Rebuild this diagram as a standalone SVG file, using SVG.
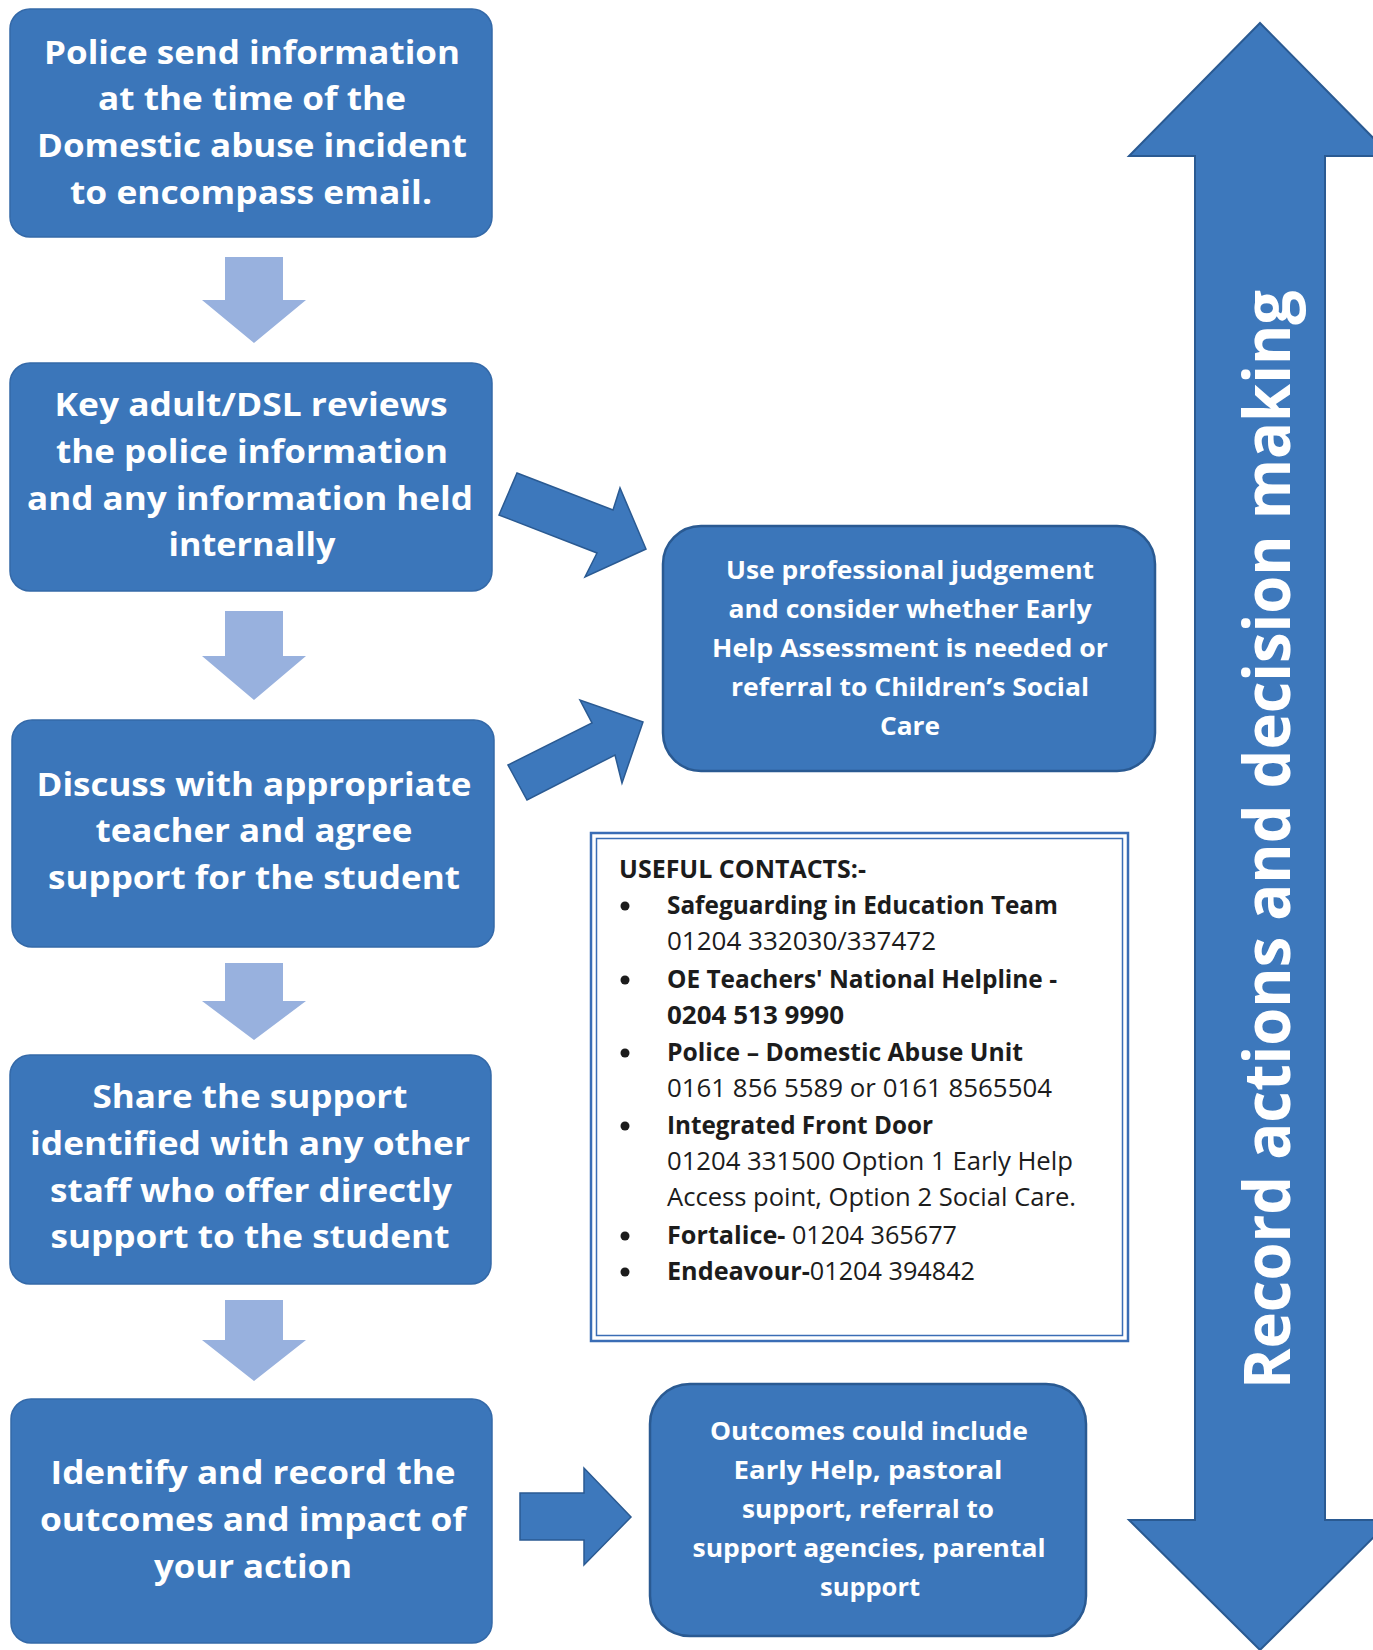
<svg xmlns="http://www.w3.org/2000/svg" width="1373" height="1650" viewBox="0 0 1373 1650">
<style>
.box{fill:#3B76BA;stroke:#3469A8;stroke-width:1.5}
.rbox{fill:#3B76BA;stroke:#2A5A92;stroke-width:2.5}
.bt{font-family:"Open Sans","Noto Sans",sans-serif;font-weight:700;fill:#ffffff;text-anchor:middle}
.big{font-size:33px}
.mid{font-size:25px}
.down{fill:#98B1DE}
.conn{fill:#3D78BC;stroke:#2A5A92;stroke-width:1.5;stroke-linejoin:miter}
.ct{font-family:"Open Sans","Noto Sans",sans-serif;font-size:25px;fill:#1c1c1c}
.b{font-weight:700}
.frame{fill:none;stroke:#3A6DB5}
</style>
<rect width="1373" height="1650" fill="#ffffff"/>

<g id="connectors">
  <polygon class="down" points="225,257 283,257 283,300 306,300 254,343 202,300 225,300"/>
  <polygon class="down" points="225,611 283,611 283,656 306,656 254,700 202,656 225,656"/>
  <polygon class="down" points="225,963 283,963 283,1001 306,1001 254,1040 202,1001 225,1001"/>
  <polygon class="down" points="225,1300 283,1300 283,1340 306,1340 254,1381 202,1340 225,1340"/>
  <polygon class="conn" points="517,473 613,510 620,488 646,549 585,577 597,553 499,515"/>
  <polygon class="conn" points="508,765 592,723 580,700 643,722 622,783 615,755 527,800"/>
  <polygon class="conn" points="520,1493 584,1493 584,1468 631,1517 584,1565 584,1540 520,1540"/>
</g>

<g id="record-arrow">
  <polygon points="1260,23 1391,156 1325,156 1325,1520 1391,1520 1260,1650 1129,1520 1195,1520 1195,156 1129,156" fill="#3D78BC" stroke="#2A5A92" stroke-width="2"/>
  <text class="bt" style="font-size:64px;text-anchor:start" transform="translate(1290,1389) rotate(-90)" textLength="1099" lengthAdjust="spacingAndGlyphs">Record actions and decision making</text>
</g>

<g id="node-police">
  <rect class="box" x="10" y="9" width="482" height="228" rx="20"/>
  <text class="bt big" x="252" y="64" textLength="416" lengthAdjust="spacingAndGlyphs">Police send information</text>
  <text class="bt big" x="252" y="110" textLength="308" lengthAdjust="spacingAndGlyphs">at the time of the</text>
  <text class="bt big" x="252" y="157" textLength="430" lengthAdjust="spacingAndGlyphs">Domestic abuse incident</text>
  <text class="bt big" x="251" y="204" textLength="362" lengthAdjust="spacingAndGlyphs">to encompass email.</text>
</g>

<g id="node-review">
  <rect class="box" x="10" y="363" width="482" height="228" rx="20"/>
  <text class="bt big" x="251" y="416" textLength="393" lengthAdjust="spacingAndGlyphs">Key adult/DSL reviews</text>
  <text class="bt big" x="252" y="463" textLength="392" lengthAdjust="spacingAndGlyphs">the police information</text>
  <text class="bt big" x="250" y="510" textLength="446" lengthAdjust="spacingAndGlyphs">and any information held</text>
  <text class="bt big" x="252" y="556" textLength="167" lengthAdjust="spacingAndGlyphs">internally</text>
</g>

<g id="node-discuss">
  <rect class="box" x="12" y="720" width="482" height="227" rx="20"/>
  <text class="bt big" x="254" y="796" textLength="435" lengthAdjust="spacingAndGlyphs">Discuss with appropriate</text>
  <text class="bt big" x="254" y="842" textLength="317" lengthAdjust="spacingAndGlyphs">teacher and agree</text>
  <text class="bt big" x="254" y="889" textLength="412" lengthAdjust="spacingAndGlyphs">support for the student</text>
</g>

<g id="node-share">
  <rect class="box" x="10" y="1055" width="481" height="229" rx="20"/>
  <text class="bt big" x="250" y="1108" textLength="315" lengthAdjust="spacingAndGlyphs">Share the support</text>
  <text class="bt big" x="250" y="1155" textLength="440" lengthAdjust="spacingAndGlyphs">identified with any other</text>
  <text class="bt big" x="251" y="1202" textLength="402" lengthAdjust="spacingAndGlyphs">staff who offer directly</text>
  <text class="bt big" x="250" y="1248" textLength="399" lengthAdjust="spacingAndGlyphs">support to the student</text>
</g>

<g id="node-identify">
  <rect class="box" x="11" y="1399" width="481" height="244" rx="20"/>
  <text class="bt big" x="253" y="1484" textLength="405" lengthAdjust="spacingAndGlyphs">Identify and record the</text>
  <text class="bt big" x="253" y="1531" textLength="426" lengthAdjust="spacingAndGlyphs">outcomes and impact of</text>
  <text class="bt big" x="253" y="1578" textLength="198" lengthAdjust="spacingAndGlyphs">your action</text>
</g>

<g id="node-judgement">
  <rect class="rbox" x="663" y="526" width="492" height="245" rx="38"/>
  <text class="bt mid" x="910" y="579" textLength="368" lengthAdjust="spacingAndGlyphs">Use professional judgement</text>
  <text class="bt mid" x="910" y="618" textLength="363" lengthAdjust="spacingAndGlyphs">and consider whether Early</text>
  <text class="bt mid" x="910" y="657" textLength="396" lengthAdjust="spacingAndGlyphs">Help Assessment is needed or</text>
  <text class="bt mid" x="910" y="696" textLength="358" lengthAdjust="spacingAndGlyphs">referral to Children’s Social</text>
  <text class="bt mid" x="910" y="735" textLength="60" lengthAdjust="spacingAndGlyphs">Care</text>
</g>

<g id="node-contacts">
  <rect class="frame" x="591" y="833" width="537" height="508" stroke-width="2.5"/>
  <rect class="frame" x="596.5" y="838.5" width="526" height="497" stroke-width="1.5"/>
  <text class="ct b" x="619" y="878" textLength="247" lengthAdjust="spacingAndGlyphs">USEFUL CONTACTS:-</text>
  <g fill="#1c1c1c">
    <circle cx="625" cy="906" r="4.5"/>
    <circle cx="625" cy="980" r="4.5"/>
    <circle cx="625" cy="1053" r="4.5"/>
    <circle cx="625" cy="1126" r="4.5"/>
    <circle cx="625" cy="1236" r="4.5"/>
    <circle cx="625" cy="1272" r="4.5"/>
  </g>
  <text class="ct b" x="667" y="914" textLength="391" lengthAdjust="spacingAndGlyphs">Safeguarding in Education Team</text>
  <text class="ct" x="667" y="950" textLength="269" lengthAdjust="spacingAndGlyphs">01204 332030/337472</text>
  <text class="ct b" x="667" y="988" textLength="390" lengthAdjust="spacingAndGlyphs">OE Teachers' National Helpline -</text>
  <text class="ct b" x="667" y="1024" textLength="177" lengthAdjust="spacingAndGlyphs">0204 513 9990</text>
  <text class="ct b" x="667" y="1061" textLength="356" lengthAdjust="spacingAndGlyphs">Police – Domestic Abuse Unit</text>
  <text class="ct" x="667" y="1097" textLength="385" lengthAdjust="spacingAndGlyphs">0161 856 5589 or 0161 8565504</text>
  <text class="ct b" x="667" y="1134" textLength="266" lengthAdjust="spacingAndGlyphs">Integrated Front Door</text>
  <text class="ct" x="667" y="1170" textLength="406" lengthAdjust="spacingAndGlyphs">01204 331500 Option 1 Early Help</text>
  <text class="ct" x="667" y="1206" textLength="409" lengthAdjust="spacingAndGlyphs">Access point, Option 2 Social Care.</text>
  <text class="ct" x="667" y="1244" textLength="290" lengthAdjust="spacingAndGlyphs"><tspan class="b">Fortalice-</tspan> 01204 365677</text>
  <text class="ct" x="667" y="1280" textLength="308" lengthAdjust="spacingAndGlyphs"><tspan class="b">Endeavour-</tspan>01204 394842</text>
</g>

<g id="node-outcomes">
  <rect class="rbox" x="650" y="1384" width="436" height="252" rx="40"/>
  <text class="bt mid" x="869" y="1440" textLength="318" lengthAdjust="spacingAndGlyphs">Outcomes could include</text>
  <text class="bt mid" x="868" y="1479" textLength="269" lengthAdjust="spacingAndGlyphs">Early Help, pastoral</text>
  <text class="bt mid" x="868" y="1518" textLength="252" lengthAdjust="spacingAndGlyphs">support, referral to</text>
  <text class="bt mid" x="869" y="1557" textLength="353" lengthAdjust="spacingAndGlyphs">support agencies, parental</text>
  <text class="bt mid" x="870" y="1596" textLength="100" lengthAdjust="spacingAndGlyphs">support</text>
</g>
</svg>
